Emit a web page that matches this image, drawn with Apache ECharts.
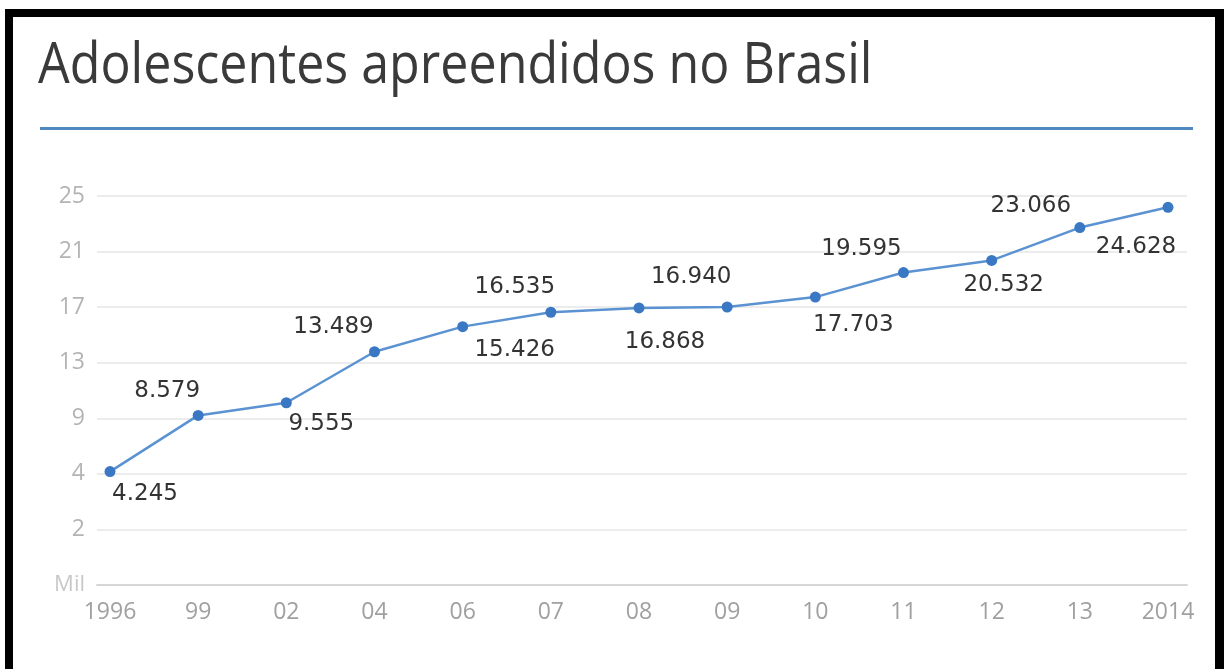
<!DOCTYPE html>
<html>
<head>
<meta charset="utf-8">
<script src="https://cdn.jsdelivr.net/npm/echarts@6/dist/echarts.min.js"></script>
<style>
html,body{margin:0;padding:0;background:#fff;}
#chart{width:1224px;height:669px;}
</style>
</head>
<body>
<div id="chart"></div>
<script>
// ---- data ----
var years = ['1996', '99', '02', '04', '06', '07', '08', '09', '10', '11', '12', '13', '2014'];
var apreendidos = [4.245, 8.579, 9.555, 13.489, 15.426, 16.535, 16.868, 16.940, 17.703, 19.595, 20.532, 23.066, 24.628];
var yTickLabels = ['Mil', '2', '4', '9', '13', '17', '21', '25'];
var titleText = 'Adolescentes apreendidos no Brasil';

// label placement (style only): offset of each label centre from its point
var labelOffsets = [[35, 22], [-31, -24], [35, 21], [-41, -25], [52, 23], [-36, -25], [26, 34],
                    [-36, -30], [38, 28], [-42, -24], [12, 25], [-49, -22], [-32, 40]];

function fmt(v) { return v.toFixed(3); }

var seriesData = apreendidos.map(function (v, i) {
  return {
    value: v,
    label: { offset: labelOffsets[i] }
  };
});

var chart = echarts.init(document.getElementById('chart'), null, { renderer: 'canvas' });
chart.setOption({
  backgroundColor: '#ffffff',
  animation: false,
  graphic: [
    { type: 'rect', shape: { x: 5, y: 9, width: 1219, height: 8 }, style: { fill: '#000' } },
    { type: 'rect', shape: { x: 5, y: 9, width: 8, height: 660 }, style: { fill: '#000' } },
    { type: 'rect', shape: { x: 1215, y: 9, width: 9, height: 660 }, style: { fill: '#000' } },
    { type: 'rect', shape: { x: 40, y: 127, width: 1153, height: 3 }, style: { fill: '#4f89bf' } },
    { type: 'text', x: 38, y: 38, scaleX: 0.88, scaleY: 1, originX: 0, originY: 0,
      style: { text: titleText, fill: '#3a3a3a', font: '400 57px "Open Sans"', textVerticalAlign: 'top' } }
  ],
  grid: [
    { left: 110, right: 56, top: 196, bottom: 84 },
    { left: 97, right: 37, top: 196, bottom: 84 }
  ],
  xAxis: [
    {
      type: 'category', gridIndex: 0, data: years, boundaryGap: false,
      axisLine: { show: false }, axisTick: { show: false },
      axisLabel: { color: '#a0a0a0', fontSize: 23, fontFamily: 'Open Sans', margin: 16 },
      splitLine: { show: false }
    },
    {
      type: 'category', gridIndex: 1, data: [''], boundaryGap: false,
      axisLine: { show: true, lineStyle: { color: '#d6d6d6', width: 2 } },
      axisTick: { show: false }, axisLabel: { show: false }, splitLine: { show: false }
    }
  ],
  yAxis: [
    { type: 'value', gridIndex: 0, min: -4.5, max: 25.5, show: false, splitLine: { show: false } },
    {
      type: 'category', gridIndex: 1, data: yTickLabels, boundaryGap: false,
      axisLine: { show: false }, axisTick: { show: false },
      axisLabel: {
        color: '#b4b4b4', fontSize: 23, fontFamily: 'Open Sans', margin: 12,
        formatter: function (v) { return v === 'Mil' ? '{m|Mil}' : v; },
        rich: { m: { fontSize: 22, color: '#c8c8c8', fontFamily: 'Open Sans' } }
      },
      splitLine: { show: true, lineStyle: { color: '#e6e6e6', width: 1.5 } }
    }
  ],
  series: [{
    type: 'line',
    xAxisIndex: 0, yAxisIndex: 0,
    data: seriesData,
    symbol: 'circle', symbolSize: 11,
    itemStyle: { color: '#3a78c4' },
    lineStyle: { color: '#5b92d2', width: 2.5 },
    label: {
      show: true, position: 'inside', align: 'center', verticalAlign: 'middle',
      color: '#333', fontSize: 23, fontFamily: 'DejaVu Sans',
      formatter: function (p) { return fmt(p.value); }
    },
    z: 5
  }]
});
</script>
</body>
</html>
